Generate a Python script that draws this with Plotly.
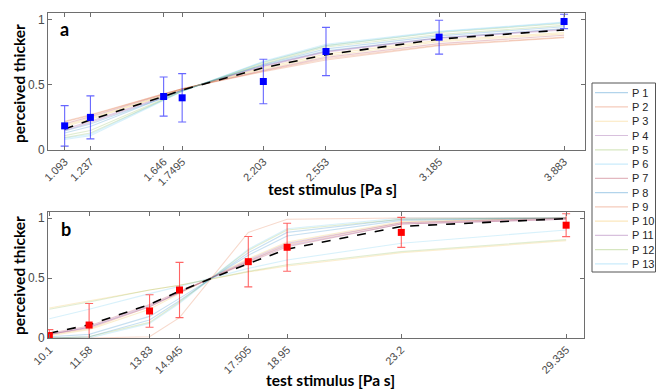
import plotly.graph_objects as go

W, H = 656, 389

# ---------------- data ----------------
stim_a = [1.093, 1.237, 1.646, 1.7495, 2.203, 2.553, 3.185, 3.883]
tick_a = ["1.093", "1.237", "1.646", "1.7495", "2.203", "2.553", "3.185", "3.883"]
obs_a = [0.185, 0.25, 0.41, 0.40, 0.525, 0.755, 0.865, 0.985]
err_a = [0.155, 0.165, 0.15, 0.185, 0.17, 0.185, 0.13, 0.055]
mean_a = [0.16, 0.23, 0.41, 0.46, 0.63, 0.73, 0.85, 0.92]
curves_a = [
    [0.145, 0.20, 0.40, 0.46, 0.65, 0.76, 0.86, 0.93],
    [0.215, 0.265, 0.43, 0.47, 0.605, 0.70, 0.805, 0.865],
    [0.19, 0.245, 0.42, 0.465, 0.62, 0.72, 0.83, 0.89],
    [0.16, 0.22, 0.41, 0.46, 0.64, 0.75, 0.855, 0.92],
    [0.095, 0.13, 0.385, 0.45, 0.67, 0.80, 0.90, 0.97],
    [0.08, 0.11, 0.38, 0.45, 0.68, 0.81, 0.91, 0.98],
    [0.20, 0.255, 0.425, 0.47, 0.61, 0.71, 0.815, 0.88],
    [0.13, 0.18, 0.40, 0.455, 0.655, 0.775, 0.875, 0.945],
    [0.22, 0.27, 0.43, 0.47, 0.60, 0.69, 0.80, 0.86],
    [0.18, 0.235, 0.415, 0.465, 0.63, 0.735, 0.84, 0.90],
    [0.15, 0.21, 0.405, 0.46, 0.645, 0.755, 0.86, 0.925],
    [0.11, 0.15, 0.39, 0.455, 0.66, 0.79, 0.885, 0.955],
    [0.09, 0.12, 0.385, 0.45, 0.675, 0.80, 0.905, 0.975],
]

stim_b = [10.1, 11.58, 13.83, 14.945, 17.505, 18.95, 23.2, 29.335]
tick_b = ["10.1", "11.58", "13.83", "14.945", "17.505", "18.95", "23.2", "29.335"]
obs_b = [0.02, 0.108, 0.225, 0.40, 0.636, 0.756, 0.88, 0.94]
err_b = [0.05, 0.18, 0.135, 0.23, 0.21, 0.20, 0.125, 0.095]
mean_b = [0.04, 0.11, 0.28, 0.39, 0.62, 0.74, 0.93, 0.995]
curves_b = [
    [0.0, 0.01, 0.15, 0.31, 0.71, 0.88, 0.99, 1.0],
    [0.03, 0.08, 0.26, 0.38, 0.64, 0.78, 0.96, 1.0],
    [0.02, 0.07, 0.24, 0.37, 0.66, 0.80, 0.97, 1.0],
    [0.03, 0.09, 0.27, 0.38, 0.64, 0.77, 0.95, 0.99],
    [0.0, 0.01, 0.13, 0.30, 0.73, 0.90, 0.99, 1.0],
    [0.0, 0.0, 0.12, 0.29, 0.74, 0.91, 1.0, 1.0],
    [0.04, 0.10, 0.28, 0.39, 0.63, 0.76, 0.95, 0.99],
    [0.01, 0.03, 0.18, 0.33, 0.69, 0.85, 0.98, 1.0],
    [0.0, 0.0, 0.01, 0.17, 0.88, 0.99, 1.0, 1.0],
    [0.25, 0.31, 0.40, 0.44, 0.55, 0.60, 0.71, 0.81],
    [0.03, 0.09, 0.26, 0.38, 0.65, 0.79, 0.96, 1.0],
    [0.24, 0.30, 0.40, 0.44, 0.555, 0.61, 0.72, 0.82],
    [0.16, 0.24, 0.37, 0.43, 0.58, 0.65, 0.79, 0.90],
]

participants = ["P %d" % (i + 1) for i in range(13)]
y_ticks = [0, 0.5, 1]
y_ticktext = ["0", "0.5", "1"]

# ---------------- style ----------------
base_rgb = [(0, 114, 189), (217, 83, 25), (237, 177, 32), (126, 47, 142),
            (119, 172, 48), (77, 190, 238), (162, 20, 47)]
ALPHA = 0.22
colors = ["rgba(%d,%d,%d,%.2f)" % (base_rgb[i % 7] + (ALPHA,)) for i in range(13)]
leg_colors = ["rgba(%d,%d,%d,%.2f)" % (base_rgb[i % 7] + (0.3,)) for i in range(13)]

AXC = "#6e6e6e"
TICKC = "#4a4a4a"
TFONT = "Lato"

fig = go.Figure()

def add_panel(xs, curves, mean, obs, err, xa, ya, mc, ec):
    for i, c in enumerate(curves):
        fig.add_trace(go.Scatter(x=xs, y=c, mode="lines", xaxis=xa, yaxis=ya,
                                 line=dict(color=colors[i], width=1.1),
                                 showlegend=False, hoverinfo="skip"))
    fig.add_trace(go.Scatter(x=xs, y=mean, mode="lines", xaxis=xa, yaxis=ya,
                             line=dict(color="black", width=1.6, dash="dash"),
                             showlegend=False))
    fig.add_trace(go.Scatter(x=xs, y=obs, mode="markers", xaxis=xa, yaxis=ya,
                             marker=dict(symbol="square", size=7, color=mc),
                             error_y=dict(type="data", array=err, visible=True,
                                          color=ec, thickness=1.1, width=4),
                             showlegend=False))

add_panel(stim_a, curves_a, mean_a, obs_a, err_a, "x", "y", "#0000ff", "rgba(0,0,255,0.6)")
add_panel(stim_b, curves_b, mean_b, obs_b, err_b, "x2", "y2", "#ff0000", "rgba(255,0,0,0.6)")

def px(x):
    return x / W

def py(y):
    return 1 - y / H

axis_common = dict(showline=True, linecolor=AXC, linewidth=1, mirror="ticks",
                   ticks="inside", ticklen=4, tickcolor=AXC, showgrid=False,
                   zeroline=False, automargin=False,
                   tickfont=dict(family="Liberation Sans", size=11, color=TICKC))
yfont = dict(family="Liberation Sans", size=12, color=TICKC)

fig.update_layout(
    width=W, height=H, margin=dict(l=0, r=0, t=0, b=0),
    paper_bgcolor="white", plot_bgcolor="white", showlegend=False,
    xaxis=dict(domain=[px(48), px(585)], range=[1.0, 4.0], anchor="y",
               tickmode="array", tickvals=stim_a, ticktext=tick_a, tickangle=-45,
               **axis_common),
    yaxis=dict(domain=[py(150), py(13)], range=[0, 1.05], anchor="x",
               tickmode="array", tickvals=y_ticks, ticktext=y_ticktext,
               **{**axis_common, "tickfont": yfont}),
    xaxis2=dict(domain=[px(48), px(584)], range=[10.05, 30.0], anchor="y2",
                tickmode="array", tickvals=stim_b, ticktext=tick_b, tickangle=-45,
                **axis_common),
    yaxis2=dict(domain=[py(338), py(212)], range=[0, 1.05], anchor="x2",
                tickmode="array", tickvals=y_ticks, ticktext=y_ticktext,
                **{**axis_common, "tickfont": yfont}),
)

ann = []
title_font = dict(family=TFONT, size=15.5, color="black")
ann.append(dict(text="<b>perceived thicker</b>", x=px(19), y=py(84), xref="paper", yref="paper",
                textangle=-90, showarrow=False, font=title_font, xanchor="center", yanchor="middle"))
ann.append(dict(text="<b>perceived thicker</b>", x=px(19), y=py(276), xref="paper", yref="paper",
                textangle=-90, showarrow=False, font=title_font, xanchor="center", yanchor="middle"))
ann.append(dict(text="<b>test stimulus [Pa s]</b>", x=px(332), y=py(189), xref="paper", yref="paper",
                showarrow=False, font=title_font, xanchor="center", yanchor="middle"))
ann.append(dict(text="<b>test stimulus [Pa s]</b>", x=px(331), y=py(380), xref="paper", yref="paper",
                showarrow=False, font=title_font, xanchor="center", yanchor="middle"))
ann.append(dict(text="<b>a</b>", x=px(64), y=py(29), xref="paper", yref="paper",
                showarrow=False, font=dict(family=TFONT, size=18, color="black"),
                xanchor="center", yanchor="middle"))
ann.append(dict(text="<b>b</b>", x=px(66), y=py(229), xref="paper", yref="paper",
                showarrow=False, font=dict(family=TFONT, size=18, color="black"),
                xanchor="center", yanchor="middle"))

shapes = [dict(type="rect", xref="paper", yref="paper", x0=px(592), x1=px(655.5),
               y0=py(272), y1=py(83), line=dict(color="#555555", width=1), fillcolor="white",
               layer="above")]
for i, name in enumerate(participants):
    yy = 92.7 + i * 14.27
    shapes.append(dict(type="line", xref="paper", yref="paper", x0=px(595), x1=px(628),
                       y0=py(yy), y1=py(yy), line=dict(color=leg_colors[i], width=1.2)))
    ann.append(dict(text=name, x=px(630), y=py(yy), xref="paper", yref="paper",
                    showarrow=False, xanchor="left", yanchor="middle",
                    font=dict(family="Liberation Sans", size=11, color="#262626")))

fig.update_layout(annotations=ann, shapes=shapes)
fig.write_html("out.html", config={"displayModeBar": False},
               post_script="document.body.style.margin='0';document.body.style.padding='0';"
                           "document.body.style.overflow='hidden';")
